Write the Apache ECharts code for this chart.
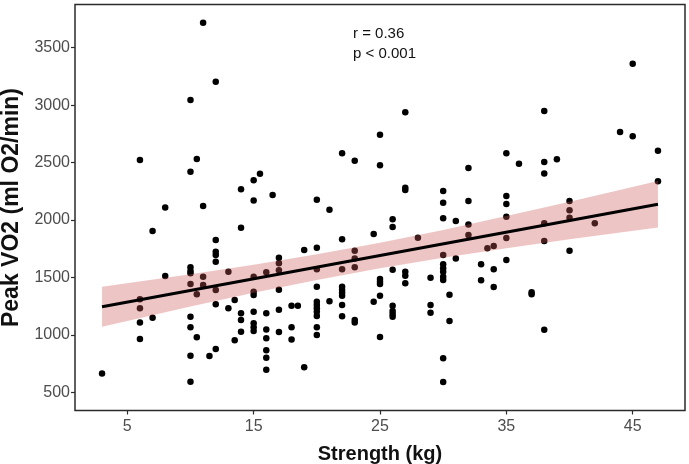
<!DOCTYPE html>
<html>
<head>
<meta charset="utf-8">
<script src="https://cdn.jsdelivr.net/npm/echarts@6/dist/echarts.min.js"></script>
<style>
html,body{margin:0;padding:0;background:#fff;}
#chart{width:689px;height:464px;}
</style>
</head>
<body>
<div id="chart"></div>
<script>
// Strength (kg) of each participant
const strength = [
  11,12,10,6,10.5,10,15.5,15,14,16.5,15,8,11,
  27,25,22,23,25,32,27,27,30,20,30,32,21,
  45,38,44,45,35,36,38,39,38,47,47,35,35,40,40,
  35,40,38,42,35,38,33.5,34,40,35,33,34,33,34,37,37,38,
  30,31,32,32,26,26,24.5,28,22,19,20,23,23,23,22,20,30,30,30,30,
  30,30,31,26,27,27,27,29,29,29,30.5,30.5,30,30,25,25,25,25,24.5,25,
  26,26,26,26,22,22,22,22,22,22,21,23,23,20,20,20,20,20,20,20,
  20,19,18,18.5,18,18,
  3,7,8,6,6,6,6,7,10,10,10,10,10,10,10,10,10.5,10.5,11,11,
  12,12,12,12,12,12,12,11.5,13,13,13.5,14,14,14,14,13.5,15,15,15,15,
  15,15,15,16,16,16,16,16,16,16,17,17,17,17,17,17
];
// Peak VO2 (ml O2/min) of each participant
const peakVO2 = [
  3718,3204,3045,2522,2531,2420,2403,2346,2267,2218,2171,2110,2122,
  2938,2743,2581,2516,2476,2453,2281,2261,2252,2177,2151,2165,2090,
  3361,2949,2766,2729,2581,2490,2505,2528,2406,2603,2337,2209,2139,2165,2085,
  2029,2020,1971,1971,1843,1817,1754,1774,1733,1652,1614,1571,1475,1417,1371,1353,1045,
  2015,1991,1962,1869,2006,1939,1878,1846,1832,1739,1759,1733,1666,1588,1571,1571,1695,1614,1580,1550,
  1506,1478,1666,1567,1550,1515,1449,1498,1260,1193,1350,1121,796,590,1486,1463,1443,1341,1289,981,
  1254,1208,1182,1158,1419,1391,1367,1341,1260,1162,1292,1129,1109,1419,1289,1260,1231,1202,1164,1066,
  999,718,1254,1254,1066,961,
  665,1904,1512,1310,1231,1109,964,1149,1588,1556,1536,1443,1158,1066,819,592,1353,979,1434,1506,
  1826,1724,1695,1637,1391,1266,877,816,1550,1231,1304,1933,1188,1129,1028,953,1506,1376,1347,1202,
  1101,1066,1034,1545,1188,1048,970,866,801,697,1672,1623,1562,1393,1219,1025
];
// Regression line end points
const fitX = [3, 47];
const fitY = [1245, 2137];
// Confidence band
const bandX = [3, 10, 15, 20, 25, 30, 35, 40, 47];
const bandLow = [1071, 1247, 1367, 1479, 1580, 1671, 1754, 1832, 1935];
const bandHigh = [1419, 1527, 1610, 1701, 1802, 1914, 2034, 2159, 2339];
// Tick labels
const xTicks = [5, 15, 25, 35, 45];
const yTicks = [500, 1000, 1500, 2000, 2500, 3000, 3500];
const annotation = ['r = 0.36', 'p < 0.001'];

const FONT = '"Liberation Sans", Arial, Helvetica, sans-serif';
const chart = echarts.init(document.getElementById('chart'), null, {renderer: 'canvas'});

const points = strength.map((s, i) => [s, peakVO2[i]]);
const fitData = fitX.map((x, i) => [x, fitY[i]]);
const bandData = bandX.map((x, i) => [x, bandLow[i], bandHigh[i]]);

chart.setOption({
  animation: false,
  backgroundColor: '#ffffff',
  grid: {
    left: 75, right: 4, top: 4.5, bottom: 53.5,
    containLabel: false, outerBoundsMode: 'none',
    show: true, borderColor: '#2b2b2b', borderWidth: 1.5, backgroundColor: 'transparent'
  },
  xAxis: {
    type: 'value', min: 0.86, max: 49.14,
    name: 'Strength (kg)', nameLocation: 'middle', nameGap: 34,
    nameTextStyle: {fontFamily: FONT, fontSize: 20, fontWeight: 'bold', color: '#111'},
    axisLine: {show: false},
    splitLine: {show: false},
    axisTick: {show: true, inside: false, length: 4, customValues: xTicks, lineStyle: {color: '#2b2b2b', width: 1.2}},
    axisLabel: {customValues: xTicks, margin: 8, fontFamily: FONT, fontSize: 16, color: '#4d4d4d',
      formatter: v => String(v)}
  },
  yAxis: {
    type: 'value', min: 342, max: 3876,
    name: 'Peak VO2 (ml O2/min)', nameLocation: 'middle', nameGap: 41, nameRotate: 90,
    nameTextStyle: {fontFamily: FONT, fontSize: 23, fontWeight: 'bold', color: '#111'},
    axisLine: {show: false},
    splitLine: {show: false},
    axisTick: {show: true, inside: false, length: 4, customValues: yTicks, lineStyle: {color: '#2b2b2b', width: 1.2}},
    axisLabel: {customValues: yTicks, margin: 5, fontFamily: FONT, fontSize: 16, color: '#4d4d4d',
      formatter: v => String(v)}
  },
  graphic: [
    {type: 'text', left: 353, top: 26, style: {text: annotation[0], fontFamily: FONT, fontSize: 15, fill: '#111'}},
    {type: 'text', left: 353, top: 46, style: {text: annotation[1], fontFamily: FONT, fontSize: 15, fill: '#111'}}
  ],
  series: [
    {
      type: 'scatter', data: points, symbol: 'circle', symbolSize: 6.5,
      itemStyle: {color: '#000', opacity: 1}, z: 2, silent: true
    },
    {
      type: 'custom', data: bandData, z: 3, silent: true,
      renderItem: function (params, api) {
        if (params.dataIndex !== 0) return null;
        const top = bandX.map((x, i) => api.coord([x, bandHigh[i]]));
        const bot = bandX.map((x, i) => api.coord([x, bandLow[i]])).reverse();
        return {
          type: 'polygon',
          shape: {points: top.concat(bot)},
          style: {fill: 'rgba(205, 90, 90, 0.35)', stroke: 'none'}
        };
      }
    },
    {
      type: 'line', data: fitData, symbol: 'none', z: 4, silent: true,
      lineStyle: {color: '#000', width: 3}
    }
  ]
});
</script>
</body>
</html>
